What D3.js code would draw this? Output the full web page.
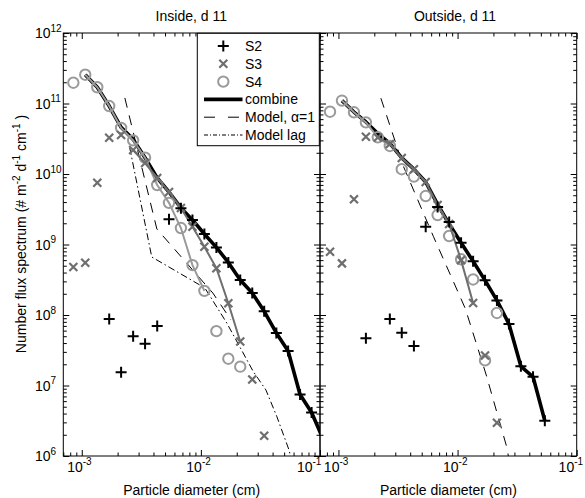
<!DOCTYPE html>
<html>
<head>
<meta charset="utf-8">
<script src="https://cdn.jsdelivr.net/npm/d3@7"></script>
<style>
  body { margin: 0; background: #fff; }
  text { font-family: "Liberation Sans", Arial, sans-serif; fill: #000; }
</style>
</head>
<body>
<svg id="chart"></svg>
<script>
// particle diameter bins (cm)
const diam = [0.00085, 0.00107, 0.00135, 0.0017, 0.00214, 0.0027, 0.0034, 0.0043, 0.0054, 0.0068,
  0.0085, 0.0107, 0.0135, 0.017, 0.0214, 0.027, 0.034, 0.043, 0.054, 0.068, 0.085, 0.107];

// Inside, d 11
const inS2 = [null, null, null, 8.8e7, 1.54e7, 5.0e7, 3.9e7, 7.0e7, 2.28e9, 3.26e9, 2.23e9, 1.41e9,
  9.1e8, 5.56e8, 3.13e8, 2.05e8, 1.13e8, 5.56e7, 3.08e7, 7.45e6, 4.14e6, null];
const inS3 = [4.8e8, 5.5e8, 7.5e9, 3.27e10, 3.57e10, 2.19e10, 1.43e10, 8.8e9, 5.56e9, 3.3e9, 1.79e9,
  9.3e8, 4.6e8, 1.47e8, 4.2e7, 1.22e7, 1.94e6, null, null, null, null, null];
const inS4 = [1.97e11, 2.56e11, 1.70e11, 9.2e10, 4.5e10, 3.0e10, 1.70e10, 6.98e9, 3.9e9, 1.71e9, 5.1e8,
  2.2e8, 5.9e7, 2.4e7, 1.85e7, null, null, null, null, null, null, null];
const inComb = [null, 2.56e11, 1.70e11, 9.2e10, 4.6e10, 3.1e10, 1.70e10, 8.8e9, 5.56e9, 3.3e9, 2.23e9,
  1.41e9, 9.1e8, 5.56e8, 3.13e8, 2.05e8, 1.13e8, 5.56e7, 3.08e7, 7.45e6, 4.14e6, 1.69e6];
const inModelX = [2.3e-3, 4.27e-3, 1.26e-2, 1.79e-2];
const inModelY = [1.2e11, 1.66e9, 2.05e8, 8.5e7];
const inLagX = [2.53e-3, 3.87e-3, 1.08e-2, 1.65e-2, 2.74e-2, 3.52e-2, 4.35e-2, 5.49e-2, 5.7e-2];
const inLagY = [2.34e10, 6.65e8, 2.42e8, 7.7e7, 1.6e7, 8.6e6, 3.6e6, 1.22e6, 9.4e5];

// Outside, d 11
const outS2 = [null, null, null, 4.67e7, null, 8.8e7, 5.6e7, 3.63e7, 1.79e9, 3.4e9, 2.08e9, 1.06e9,
  5.78e8, 3.1e8, 1.61e8, 7.45e7, 1.87e7, 1.33e7, 3.17e6, null, null, null];
const outS3 = [7.9e8, 5.4e8, 4.38e9, 3.38e10, 3.3e10, 2.67e10, 1.69e10, 1.17e10, 7.7e9, 3.63e9, 1.95e9,
  6.0e8, 1.48e8, 2.67e7, 2.97e6, null, null, null, null, null, null, null];
const outS4 = [7.65e10, 1.1e11, 7.5e10, 5.4e10, 3.32e10, 2.5e10, 1.17e10, 9.2e9, 4.87e9, 2.62e9, 1.32e9,
  6.17e8, 3.19e8, 2.27e7, 1.07e8, null, null, null, null, null, null, null];
const outComb = [null, 1.1e11, 7.57e10, 5.47e10, 3.75e10, 2.71e10, 1.69e10, 1.17e10, 7.7e9, 3.7e9, 1.95e9,
  1.06e9, 5.78e8, 3.1e8, 1.61e8, 7.45e7, 1.87e7, 1.33e7, 3.17e6, null, null, null];
const outModelX = [2.27e-3, 3.52e-3, 6.28e-3, 1.16e-2, 1.74e-2, 2.58e-2, 2.7e-2];
const outModelY = [1.19e11, 1.27e10, 1.29e9, 1.24e8, 1.41e7, 1.36e6, 9e5];

// ticks
const xMajor = [1e-3, 1e-2, 1e-1];
const xMinor = [7e-4, 8e-4, 9e-4, 2e-3, 3e-3, 4e-3, 5e-3, 6e-3, 7e-3, 8e-3, 9e-3,
  2e-2, 3e-2, 4e-2, 5e-2, 6e-2, 7e-2, 8e-2, 9e-2];
const xExp = ['-3', '-2', '-1'];
const yMajor = [1e6, 1e7, 1e8, 1e9, 1e10, 1e11, 1e12];
const yExp = ['6', '7', '8', '9', '10', '11', '12'];
const legendLabels = ['S2', 'S3', 'S4', 'combine', 'Model, \u03b1=1', 'Model lag'];

const width = 585, height = 498;
const plotTop = 33, plotBottom = 456;
const c2 = '#000', c3 = '#6e6e6e', c4 = '#9a9a9a';

const svg = d3.select('#chart').attr('width', width).attr('height', height);

const y = d3.scaleLog().domain([1e6, 1e12]).range([plotBottom, plotTop]);
const yMinor = [];
yMajor.slice(0, -1).forEach((m) => { for (let k = 2; k <= 9; k++) yMinor.push(m * k); });

const panels = [
  { id: 'in', x0: 63.3, x1: 320, title: 'Inside, d 11', titleX: 191.3,
    s2: inS2, s3: inS3, s4: inS4, comb: inComb, s3Span: [5, 14], s4Span: [1, 11],
    model: [inModelX, inModelY], lag: [inLagX, inLagY], labelShift: [0, 0, -8.5], yLabels: true },
  { id: 'out', x0: 320, x1: 576.7, title: 'Outside, d 11', titleX: 455,
    s2: outS2, s3: outS3, s4: outS4, comb: outComb, s3Span: [4, 12], s4Span: [1, 5],
    model: [outModelX, outModelY], lag: null, labelShift: [0, 0, -3.5], yLabels: false },
];

function plusPath(s) { return `M${-s},0H${s}M0,${-s}V${s}`; }
function crossPath(s) { return `M${-s},${-s}L${s},${s}M${-s},${s}L${s},${-s}`; }

panels.forEach((p) => {
  const x = d3.scaleLog().domain([7e-4, 0.1]).range([p.x0, p.x1]);

  svg.append('clipPath').attr('id', `clip-${p.id}`)
    .append('rect').attr('x', p.x0).attr('y', plotTop).attr('width', p.x1 - p.x0).attr('height', plotBottom - plotTop);

  const g = svg.append('g').attr('clip-path', `url(#clip-${p.id})`);

  const span = (arr, s) => arr.map((v, i) => (i >= s[0] && i <= s[1] ? v : null));
  const line = d3.line().defined((d) => d != null).x((d, i) => x(diam[i])).y((d) => y(d));
  const xyLine = d3.line().x((d) => x(d[0])).y((d) => y(d[1]));

  // model curves
  g.append('path').datum(p.model[0].map((v, i) => [v, p.model[1][i]]))
    .attr('d', xyLine).attr('fill', 'none').attr('stroke', '#000').attr('stroke-width', 1)
    .attr('stroke-dasharray', '10,8');
  if (p.lag) {
    g.append('path').datum(p.lag[0].map((v, i) => [v, p.lag[1][i]]))
      .attr('d', xyLine).attr('fill', 'none').attr('stroke', '#000').attr('stroke-width', 1)
      .attr('stroke-dasharray', '7,3,1.5,3');
  }

  // combined spectrum
  g.append('path').datum(p.comb).attr('d', line)
    .attr('fill', 'none').attr('stroke', '#000').attr('stroke-width', 3.6).attr('stroke-linejoin', 'round');

  // S4
  g.append('path').datum(span(p.s4, p.s4Span)).attr('d', line)
    .attr('fill', 'none').attr('stroke', c4).attr('stroke-width', 2);
  g.append('g').selectAll('circle')
    .data(p.s4.map((v, i) => [diam[i], v]).filter((d) => d[1] != null))
    .join('circle')
    .attr('cx', (d) => x(d[0])).attr('cy', (d) => y(d[1])).attr('r', 5.2)
    .attr('fill', 'none').attr('stroke', c4).attr('stroke-width', 2);

  // S3
  g.append('path').datum(span(p.s3, p.s3Span)).attr('d', line)
    .attr('fill', 'none').attr('stroke', c3).attr('stroke-width', 2);
  g.append('g').selectAll('path')
    .data(p.s3.map((v, i) => [diam[i], v]).filter((d) => d[1] != null))
    .join('path')
    .attr('transform', (d) => `translate(${x(d[0])},${y(d[1])})`)
    .attr('d', crossPath(4)).attr('stroke', c3).attr('stroke-width', 2.2);

  // S2
  g.append('g').selectAll('path')
    .data(p.s2.map((v, i) => [diam[i], v]).filter((d) => d[1] != null))
    .join('path')
    .attr('transform', (d) => `translate(${x(d[0])},${y(d[1])})`)
    .attr('d', plusPath(5.5)).attr('stroke', c2).attr('stroke-width', 2);

  // axes (ticks inward)
  const ax = svg.append('g');
  const addAxis = (axis, tx, ty) => {
    const a = ax.append('g').attr('transform', `translate(${tx},${ty})`).call(axis);
    a.select('.domain').remove();
    a.selectAll('line').attr('stroke', '#000');
  };
  addAxis(d3.axisBottom(x).tickValues(xMajor).tickSize(-6).tickFormat(''), 0, plotBottom);
  addAxis(d3.axisBottom(x).tickValues(xMinor).tickSize(-3.5).tickFormat(''), 0, plotBottom);
  addAxis(d3.axisTop(x).tickValues(xMajor).tickSize(-6).tickFormat(''), 0, plotTop);
  addAxis(d3.axisTop(x).tickValues(xMinor).tickSize(-3.5).tickFormat(''), 0, plotTop);
  addAxis(d3.axisLeft(y).tickValues(yMajor).tickSize(-6).tickFormat(''), p.x0, 0);
  addAxis(d3.axisLeft(y).tickValues(yMinor).tickSize(-3.5).tickFormat(''), p.x0, 0);
  addAxis(d3.axisRight(y).tickValues(yMajor).tickSize(-6).tickFormat(''), p.x1, 0);
  addAxis(d3.axisRight(y).tickValues(yMinor).tickSize(-3.5).tickFormat(''), p.x1, 0);

  svg.append('rect').attr('x', p.x0).attr('y', plotTop).attr('width', p.x1 - p.x0).attr('height', plotBottom - plotTop)
    .attr('fill', 'none').attr('stroke', '#000').attr('stroke-width', 1);

  // x tick labels
  xMajor.forEach((v, i) => {
    const tx = x(v) + p.labelShift[i];
    svg.append('text').attr('x', tx + 1).attr('y', 472).attr('text-anchor', 'end')
      .style('font-size', '14px').text('10');
    svg.append('text').attr('x', tx + 1).attr('y', 465).attr('text-anchor', 'start')
      .style('font-size', '10px').text(xExp[i]);
  });

  if (p.yLabels) {
    yMajor.forEach((v, i) => {
      svg.append('text').attr('x', 50.5).attr('y', y(v) + 5.3).attr('text-anchor', 'end')
        .style('font-size', '14px').text('10');
      svg.append('text').attr('x', 50.5).attr('y', y(v) - 1.5).attr('text-anchor', 'start')
        .style('font-size', '10px').text(yExp[i]);
    });
  }

  svg.append('text').attr('x', p.titleX).attr('y', 20.7).attr('text-anchor', 'middle')
    .style('font-size', '14px').text(p.title);
  svg.append('text').attr('x', (p.x0 + p.x1) / 2).attr('y', 495).attr('text-anchor', 'middle')
    .style('font-size', '14px').text('Particle diameter (cm)');
});

// y axis title
const yt = svg.append('text').attr('transform', 'translate(26,234) rotate(-90)')
  .attr('text-anchor', 'middle').style('font-size', '14px');
const ytParts = [['Number flux spectrum (# m', 0], ['-2', 1], [' d', 0], ['-1', 1], [' cm', 0], ['-1', 1], [' )', 0]];
let shifted = false;
ytParts.forEach(([t, sup]) => {
  const ts = yt.append('tspan').text(t).style('font-size', sup ? '10px' : '14px');
  if (sup && !shifted) { ts.attr('dy', -6); shifted = true; }
  if (!sup && shifted) { ts.attr('dy', 6); shifted = false; }
});

// legend
const lg = svg.append('g');
lg.append('rect').attr('x', 197.3).attr('y', plotTop + 0.3).attr('width', 122).attr('height', 112.4)
  .attr('fill', '#fff').attr('stroke', '#000').attr('stroke-width', 1);
legendLabels.forEach((lab, i) => {
  const cy = 46 + 17.8 * i;
  if (i === 0) lg.append('path').attr('transform', `translate(223.3,${cy})`).attr('d', plusPath(5.5)).attr('stroke', c2).attr('stroke-width', 2);
  if (i === 1) lg.append('path').attr('transform', `translate(223.3,${cy})`).attr('d', crossPath(4)).attr('stroke', c3).attr('stroke-width', 2.2);
  if (i === 2) lg.append('circle').attr('cx', 223.3).attr('cy', cy).attr('r', 5.2).attr('fill', 'none').attr('stroke', c4).attr('stroke-width', 2);
  if (i >= 3) {
    lg.append('line').attr('x1', 204).attr('x2', 242.5).attr('y1', cy).attr('y2', cy).attr('stroke', '#000')
      .attr('stroke-width', i === 3 ? 3.6 : 1)
      .attr('stroke-dasharray', i === 4 ? '11,13' : i === 5 ? '4,2,1,2' : null);
  }
  lg.append('text').attr('x', 245).attr('y', cy + 5).style('font-size', '14px').text(lab);
});
</script>
</body>
</html>
